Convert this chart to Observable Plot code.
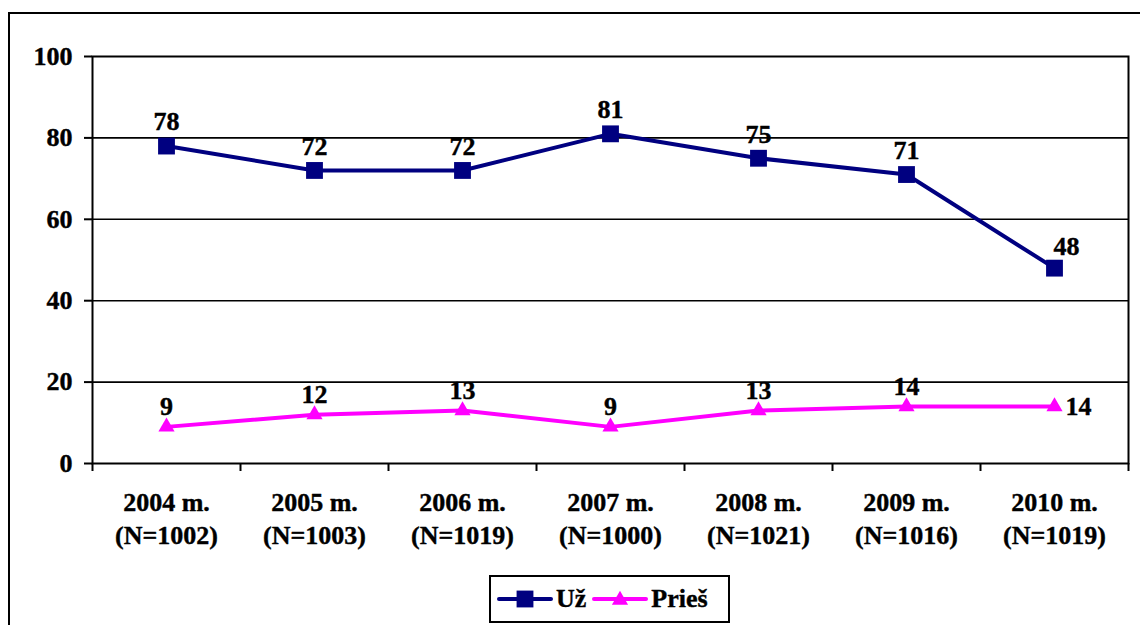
<!DOCTYPE html>
<html>
<head>
<meta charset="utf-8">
<script src="https://cdn.jsdelivr.net/npm/d3@7"></script>
<script src="https://cdn.jsdelivr.net/npm/@observablehq/plot@0.6"></script>
<style>
  html, body { margin: 0; padding: 0; background: #fff; overflow: hidden; }
  #wrap { position: relative; width: 1140px; height: 625px; font-family: "Liberation Serif", "Times New Roman", serif; font-weight: bold; }
  #outer { position: absolute; left: 8px; top: 12px; width: 1300px; height: 800px; border: 2px solid #000; pointer-events: none; }
  #chart { position: absolute; left: 0; top: 0; }
  #legend { position: absolute; left: 489px; top: 575px; width: 237px; height: 44px; border: 2px solid #000; background: #fff;
            display: flex; align-items: center; font-size: 26px; color: #000; -webkit-text-stroke: 0.4px #000; }
  #legend .item { display: flex; align-items: center; margin-left: 6px; }
  #legend .item span { margin-left: 3px; }
</style>
</head>
<body>
<div id="wrap">
  <div id="chart"></div>
  <div id="outer"></div>
  <div id="legend"></div>
</div>
<script>
const categories = ["2004 m.\n(N=1002)", "2005 m.\n(N=1003)", "2006 m.\n(N=1019)", "2007 m.\n(N=1000)", "2008 m.\n(N=1021)", "2009 m.\n(N=1016)", "2010 m.\n(N=1019)"];
const uzValues = [78, 72, 72, 81, 75, 71, 48];
const priesValues = [9, 12, 13, 9, 13, 14, 14];
const seriesNames = ["Už", "Prieš"];
const seriesColors = ["#000080", "#FF00FF"];
const yTicks = [0, 20, 40, 60, 80, 100];

const uz = categories.map((c, i) => ({i, pos: i + 0.5, value: uzValues[i], last: i === categories.length - 1}));
const pr = categories.map((c, i) => ({i, pos: i + 0.5, value: priesValues[i], last: i === categories.length - 1}));
const centers = categories.map((c, i) => i + 0.5);
const bounds = d3.range(categories.length + 1);

const font = "'Liberation Serif', 'Times New Roman', serif";
const txt = {fontSize: 26, fontWeight: "bold", fontFamily: font, fill: "#000"};
const txtStroke = {stroke: "#000", strokeWidth: 0.4};
const chart = Plot.plot({
  width: 1140,
  height: 625,
  marginLeft: 92,
  marginRight: 12,
  marginTop: 56,
  marginBottom: 162,
  style: {fontFamily: font, fontSize: "26px", fontWeight: "bold", color: "#000", background: "transparent"},
  x: {domain: [0, categories.length], axis: null, label: null},
  y: {domain: [0, 100], axis: null, label: null},
  marks: [
    Plot.gridY({ticks: [20, 40, 60, 80], stroke: "#000", strokeOpacity: 1, strokeWidth: 1.6}),
    Plot.frame({stroke: "#000", strokeWidth: 2}),
    Plot.axisY({ticks: yTicks, tickSize: 8, tickPadding: 12, tickFormat: d => d, label: null, ...txt, textStroke: "#000", textStrokeWidth: 0.4, strokeWidth: 2}),
    Plot.axisX({ticks: bounds, tickSize: 8, tickFormat: () => "", label: null, strokeWidth: 2}),
    Plot.axisX({ticks: centers, tickSize: 0, tickPadding: 24, tickFormat: d => categories[Math.round(d - 0.5)], label: null, lineHeight: 1.28, ...txt, textStroke: "#000", textStrokeWidth: 0.4}),
    Plot.line(uz, {x: "pos", y: "value", stroke: seriesColors[0], strokeWidth: 4}),
    Plot.line(pr, {x: "pos", y: "value", stroke: seriesColors[1], strokeWidth: 4}),
    Plot.dot(uz, {x: "pos", y: "value", symbol: "square", r: 9.5, fill: seriesColors[0], stroke: null}),
    Plot.dot(pr, {x: "pos", y: "value", symbol: "triangle", r: 6, fill: seriesColors[1], stroke: null}),
    Plot.text(uz.filter(d => !d.last), {x: "pos", y: "value", text: d => d.value, dy: -24, ...txt, ...txtStroke}),
    Plot.text(uz.filter(d => d.last), {x: "pos", y: "value", text: d => d.value, dx: 12, dy: -21, ...txt, ...txtStroke}),
    Plot.text(pr.filter(d => !d.last), {x: "pos", y: "value", text: d => d.value, dy: -20, ...txt, ...txtStroke}),
    Plot.text(pr.filter(d => d.last), {x: "pos", y: "value", text: d => d.value, dx: 24, dy: 0, ...txt, ...txtStroke})
  ]
});
document.getElementById("chart").appendChild(chart);

// legend
const legend = document.getElementById("legend");
seriesNames.forEach((name, k) => {
  const item = document.createElement("div");
  item.className = "item";
  const svg = d3.create("svg").attr("width", 56).attr("height", 20);
  svg.append("line").attr("x1", 2).attr("x2", 54).attr("y1", 10).attr("y2", 10)
    .attr("stroke", seriesColors[k]).attr("stroke-width", 4).attr("stroke-linecap", "round");
  const sym = k === 0 ? d3.symbol(d3.symbolSquare, 9.5 * 9.5 * Math.PI) : d3.symbol(d3.symbolTriangle, 6 * 6 * Math.PI);
  svg.append("path").attr("d", sym()).attr("transform", k === 0 ? "translate(28,10)" : "translate(28,11)").attr("fill", seriesColors[k]);
  item.appendChild(svg.node());
  const span = document.createElement("span");
  span.textContent = name;
  item.appendChild(span);
  legend.appendChild(item);
});
</script>
</body>
</html>
